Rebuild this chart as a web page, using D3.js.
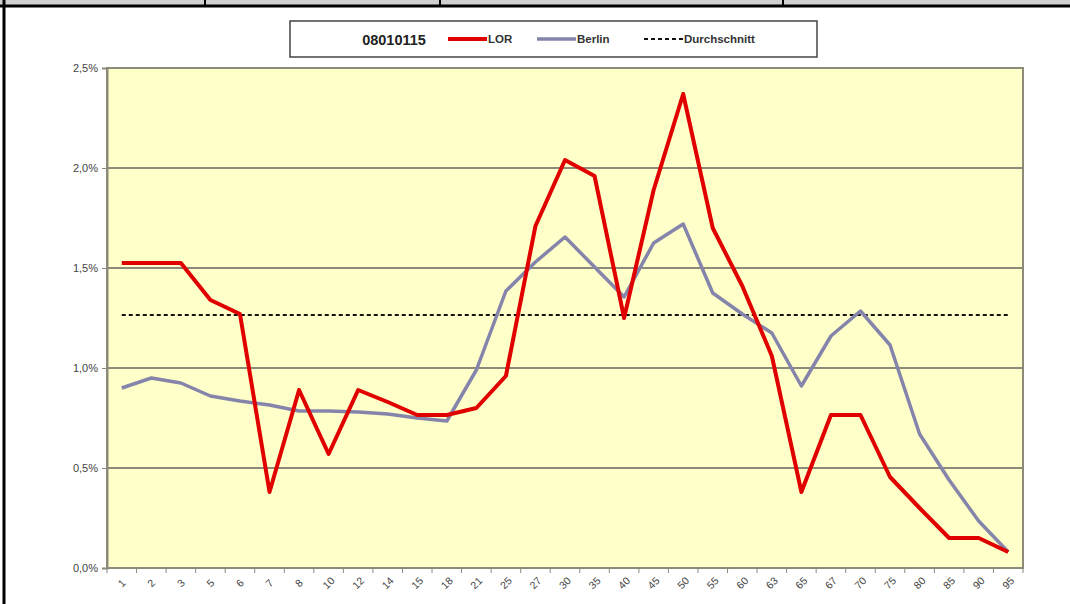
<!DOCTYPE html>
<html>
<head>
<meta charset="utf-8">
<script src="https://cdn.jsdelivr.net/npm/d3@7"></script>
<style>
  body { margin: 0; background: #fff; }
  svg { display: block; font-family: Arial, "Liberation Sans", sans-serif; }
  .grid line { stroke: #8c8a78; stroke-width: 2; }
  .axis path, .axis line { stroke: #8c8a78; }
  .axis text { fill: #444; }
</style>
</head>
<body>
<svg id="chart" width="1070" height="604"></svg>
<script>
  "use strict";

  // age groups (x categories)
  var ages = ["1", "2", "3", "5", "6", "7", "8", "10", "12", "14", "15", "18", "21", "25", "27",
    "30", "35", "40", "45", "50", "55", "60", "63", "65", "67", "70", "75", "80", "85", "90", "95"];

  // share per age group, in percent
  var lor = [1.525, 1.525, 1.525, 1.34, 1.27, 0.38, 0.89, 0.57, 0.89, 0.83, 0.765, 0.765, 0.80, 0.96, 1.71,
    2.04, 1.96, 1.25, 1.89, 2.37, 1.70, 1.41, 1.06, 0.38, 0.765, 0.765, 0.455, 0.30, 0.15, 0.15, 0.08];
  var berlin = [0.90, 0.95, 0.925, 0.86, 0.835, 0.815, 0.785, 0.785, 0.78, 0.77, 0.75, 0.735, 0.99, 1.385, 1.53,
    1.655, 1.505, 1.355, 1.625, 1.72, 1.375, 1.27, 1.175, 0.91, 1.16, 1.285, 1.115, 0.67, 0.44, 0.235, 0.08];
  var average = 1.265;

  var yTicks = [0, 0.5, 1, 1.5, 2, 2.5];
  var title = "08010115";

  var svg = d3.select("#chart");
  var margin = {left: 107, right: 47, top: 68, bottom: 36};
  var width = 1070 - margin.left - margin.right;
  var height = 604 - margin.top - margin.bottom;

  // table frame above the chart
  svg.append("rect").attr("x", 0).attr("y", 0).attr("width", 1070).attr("height", 5).attr("fill", "#d0d0d0");
  svg.append("line").attr("x1", 0).attr("x2", 1070).attr("y1", 6).attr("y2", 6)
    .attr("stroke", "#000").attr("stroke-width", 3);
  svg.append("line").attr("x1", 4).attr("x2", 4).attr("y1", 0).attr("y2", 604)
    .attr("stroke", "#000").attr("stroke-width", 3);
  [205, 440, 783].forEach(function (x) {
    svg.append("line").attr("x1", x).attr("x2", x).attr("y1", 0).attr("y2", 6)
      .attr("stroke", "#000").attr("stroke-width", 2);
  });

  var x = d3.scaleBand().domain(ages).range([0, width]);
  var y = d3.scaleLinear().domain([0, 2.5]).range([height, 0]);

  var g = svg.append("g").attr("transform", "translate(" + margin.left + "," + margin.top + ")");

  g.append("rect").attr("width", width).attr("height", height)
    .attr("fill", "#ffffc9").attr("stroke", "#8c8a78").attr("stroke-width", 2);

  g.append("g").attr("class", "grid")
    .selectAll("line").data(yTicks.slice(1, -1)).enter().append("line")
      .attr("x1", 0).attr("x2", width)
      .attr("y1", function (d) { return y(d); })
      .attr("y2", function (d) { return y(d); });

  var fmt = function (d) { return d.toFixed(1).replace(".", ",") + "%"; };

  var yAxis = g.append("g").attr("class", "axis")
    .call(d3.axisLeft(y).tickValues(yTicks).tickFormat(fmt).tickSize(5).tickPadding(4));
  yAxis.selectAll("text").style("font-size", "11px");
  yAxis.select(".domain").attr("stroke-width", 2);

  // ticks sit on the category boundaries
  var xAxis = g.append("g").attr("class", "axis").attr("transform", "translate(0," + height + ")");
  xAxis.append("line").attr("x1", 0).attr("x2", width).attr("stroke-width", 2);
  xAxis.selectAll(".tick").data(d3.range(ages.length + 1)).enter().append("line")
    .attr("x1", function (i) { return i * x.step(); })
    .attr("x2", function (i) { return i * x.step(); })
    .attr("y1", 0).attr("y2", 5);
  xAxis.selectAll("text").data(ages).enter().append("text")
    .attr("transform", function (d) {
      return "translate(" + (x(d) + x.bandwidth() / 2) + ",15) rotate(-45)";
    })
    .attr("text-anchor", "middle")
    .attr("dy", "0.35em")
    .style("font-size", "10.5px")
    .text(function (d) { return d; });

  var cx = function (d, i) { return x(ages[i]) + x.bandwidth() / 2; };
  var line = d3.line().x(cx).y(function (d) { return y(d); });

  g.append("line")
    .attr("x1", cx(null, 0)).attr("x2", cx(null, ages.length - 1))
    .attr("y1", y(average)).attr("y2", y(average))
    .attr("stroke", "#111").attr("stroke-width", 2).attr("stroke-dasharray", "4,3");

  g.append("path").datum(berlin).attr("d", line)
    .attr("fill", "none").attr("stroke", "#8585ac").attr("stroke-width", 3.5)
    .attr("stroke-linejoin", "round");

  g.append("path").datum(lor).attr("d", line)
    .attr("fill", "none").attr("stroke", "#e00000").attr("stroke-width", 4)
    .attr("stroke-linejoin", "round");

  // legend
  var lg = svg.append("g");
  lg.append("rect").attr("x", 290).attr("y", 21).attr("width", 527).attr("height", 36)
    .attr("fill", "#fff").attr("stroke", "#444").attr("stroke-width", 1.5);
  lg.append("text").attr("x", 394).attr("y", 45).attr("text-anchor", "middle")
    .style("font-size", "14.5px").style("font-weight", "bold").attr("fill", "#222").text(title);

  var items = [
    {name: "LOR", x: 448, color: "#e00000", w: 4, dash: null},
    {name: "Berlin", x: 537, color: "#8585ac", w: 3.5, dash: null},
    {name: "Durchschnitt", x: 644, color: "#111", w: 2, dash: "4,3"}
  ];
  items.forEach(function (it) {
    lg.append("line").attr("x1", it.x).attr("x2", it.x + 39).attr("y1", 39).attr("y2", 39)
      .attr("stroke", it.color).attr("stroke-width", it.w).attr("stroke-dasharray", it.dash);
    lg.append("text").attr("x", it.x + 40).attr("y", 43)
      .style("font-size", "11.5px").style("font-weight", "bold").attr("fill", "#333").text(it.name);
  });
</script>
</body>
</html>
